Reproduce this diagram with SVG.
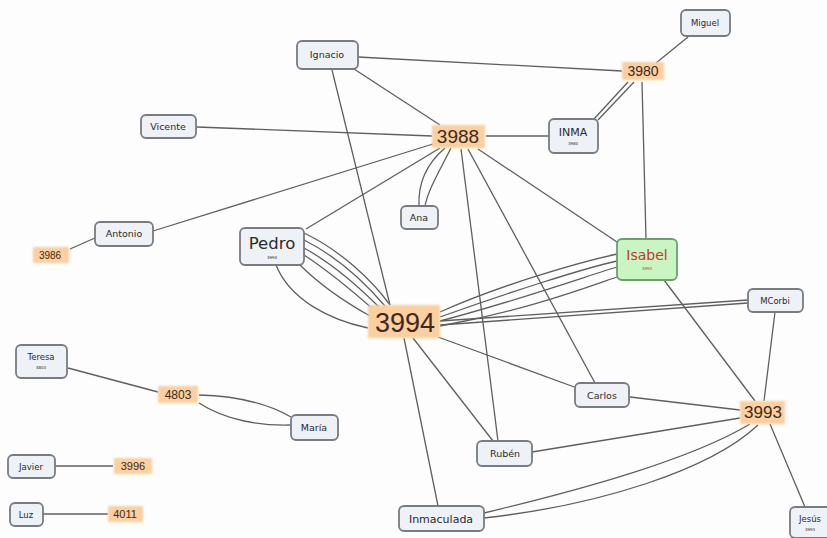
<svg xmlns="http://www.w3.org/2000/svg" width="827" height="538" viewBox="0 0 827 538">
<defs>
<filter id="soft" x="-20%" y="-30%" width="140%" height="160%"><feGaussianBlur stdDeviation="1.2"/></filter>
</defs>
<style>
.n rect{fill:#eef1f5;stroke:#777c82;stroke-width:1.8}
.n text{font-family:"DejaVu Sans",Verdana,sans-serif;fill:#2a2a2a;text-anchor:middle}
.t{font-size:9.5px}
.s{font-size:4px;fill:#666}
.o rect{fill:#fbcf9f;filter:url(#soft)}
.o text{font-family:"Liberation Sans",Arial,sans-serif;fill:#3d2a1c;text-anchor:middle}
#edges path{fill:none;stroke:#5f5f5f;stroke-width:1.3}
</style>
<rect width="827" height="538" fill="#fdfdfd"/>
<g id="edges">
<path d="M358,57 L622,71"/>
<path d="M354,69 L440,125"/>
<path d="M332,70 L390,305"/>
<path d="M688,37 L656,63"/>
<path d="M628,82 L594,119"/>
<path d="M634,82 L598,120"/>
<path d="M642,82 L646,239"/>
<path d="M197,127 L432,136"/>
<path d="M486,136 L549,136"/>
<path d="M153,231 L433,144"/>
<path d="M306,229 L440,148"/>
<path d="M445,148 C425,165 418,185 419,206"/>
<path d="M451,148 C440,170 428,190 425,206"/>
<path d="M461,149 L498,441"/>
<path d="M468,149 L595,383"/>
<path d="M478,149 L617,242"/>
<path d="M95,238 L70,249"/>
<path d="M304,233 C340,250 372,280 390,305"/>
<path d="M304,240 C340,258 367,285 385,306"/>
<path d="M304,248 C335,265 362,290 380,308"/>
<path d="M304,255 C330,272 357,295 374,310"/>
<path d="M300,265 C320,285 345,302 370,316"/>
<path d="M276,265 C290,300 330,320 368,328"/>
<path d="M440,312 C500,285 580,262 617,254"/>
<path d="M440,317 C510,292 585,268 617,261"/>
<path d="M440,321 C520,300 590,275 617,267"/>
<path d="M440,326 C530,310 595,284 620,276"/>
<path d="M440,321 L748,300"/>
<path d="M440,325 L748,303"/>
<path d="M438,337 L577,388"/>
<path d="M413,338 L493,441"/>
<path d="M404,338 L438,506"/>
<path d="M664,280 L755,401"/>
<path d="M775,312 L764,401"/>
<path d="M630,397 L740,410"/>
<path d="M532,452 L740,418"/>
<path d="M484,513 C580,490 690,460 750,424"/>
<path d="M484,518 C600,505 710,470 758,425"/>
<path d="M770,424 L805,507"/>
<path d="M68,368 L158,392"/>
<path d="M199,395 C240,396 270,405 291,417"/>
<path d="M199,403 C225,420 260,426 291,425"/>
<path d="M55,466 L113,466"/>
<path d="M43,514 L108,514"/>
</g>
<g id="n-ignacio" class="n"><rect x="297" y="41" width="61" height="28" rx="5"/><text class="t" x="327" y="58">Ignacio</text></g>
<g id="n-miguel" class="n"><rect x="681" y="10" width="49" height="26" rx="5"/><text class="t" x="705" y="26" style="font-size:8.5px">Miguel</text></g>
<g id="n-vicente" class="n"><rect x="141" y="115" width="55" height="23" rx="5"/><text class="t" x="168" y="130">Vicente</text></g>
<g id="n-inma" class="n"><rect x="549" y="119" width="49" height="34" rx="5"/><text x="573" y="136" style="font-size:11px">INMA</text><text class="s" x="573" y="145">3980</text></g>
<g id="n-ana" class="n"><rect x="401" y="206" width="37" height="23" rx="5"/><text class="t" x="419" y="221">Ana</text></g>
<g id="n-antonio" class="n"><rect x="95" y="222" width="58" height="24" rx="5"/><text class="t" x="124" y="237">Antonio</text></g>
<g id="n-pedro" class="n"><rect x="240" y="228" width="64" height="37" rx="5"/><text x="272" y="249" style="font-size:16.5px">Pedro</text><text class="s" x="272" y="259">3994</text></g>
<g id="n-isabel" class="n"><rect x="617" y="239" width="60" height="41" rx="5" style="fill:#c9f5c3;stroke:#6f9d6f"/><text x="647" y="260" style="font-size:14px;fill:#c0392b">Isabel</text><text class="s" x="647" y="270" style="fill:#c0392b">3993</text></g>
<g id="n-mcorbi" class="n"><rect x="748" y="289" width="55" height="23" rx="5"/><text class="t" x="775" y="304" style="font-size:8.5px">MCorbi</text></g>
<g id="n-teresa" class="n"><rect x="16" y="345" width="51" height="33" rx="5"/><text class="t" x="41" y="360" style="font-size:8.5px">Teresa</text><text class="s" x="41" y="369">4803</text></g>
<g id="n-maria" class="n"><rect x="291" y="415" width="47" height="25" rx="5"/><text class="t" x="314" y="431">María</text></g>
<g id="n-carlos" class="n"><rect x="575" y="383" width="54" height="24" rx="5"/><text class="t" x="602" y="399">Carlos</text></g>
<g id="n-ruben" class="n"><rect x="477" y="441" width="55" height="25" rx="5"/><text class="t" x="505" y="457">Rubén</text></g>
<g id="n-javier" class="n"><rect x="8" y="455" width="47" height="23" rx="5"/><text class="t" x="31" y="470" style="font-size:8.5px">Javier</text></g>
<g id="n-luz" class="n"><rect x="10" y="503" width="33" height="23" rx="5"/><text class="t" x="26" y="518" style="font-size:8.5px">Luz</text></g>
<g id="n-inmaculada" class="n"><rect x="399" y="506" width="85" height="25" rx="5"/><text x="441" y="523" style="font-size:11px">Inmaculada</text></g>
<g id="n-jesus" class="n"><rect x="790" y="507" width="44" height="31" rx="5"/><text class="t" x="810" y="522" style="font-size:8.5px">Jesús</text><text class="s" x="810" y="531">3993</text></g>
<g id="o-3980" class="o"><rect x="622" y="62" width="42" height="18"/><text x="643" y="76" style="font-size:14px">3980</text></g>
<g id="o-3988" class="o"><rect x="432" y="125" width="53" height="23"/><text x="458" y="143" style="font-size:19px">3988</text></g>
<g id="o-3986" class="o"><rect x="33" y="247" width="36" height="16"/><text x="50" y="259" style="font-size:10px">3986</text></g>
<g id="o-3994" class="o"><rect x="368" y="305" width="72" height="33"/><text x="405" y="332" style="font-size:27px">3994</text></g>
<g id="o-4803" class="o"><rect x="158" y="386" width="40" height="17"/><text x="178" y="399" style="font-size:12px">4803</text></g>
<g id="o-3993" class="o"><rect x="740" y="401" width="45" height="23"/><text x="763" y="418" style="font-size:17px">3993</text></g>
<g id="o-3996" class="o"><rect x="114" y="458" width="38" height="16"/><text x="133" y="470" style="font-size:11px">3996</text></g>
<g id="o-4011" class="o"><rect x="108" y="506" width="35" height="16"/><text x="125" y="518" style="font-size:11px">4011</text></g>
</svg>
